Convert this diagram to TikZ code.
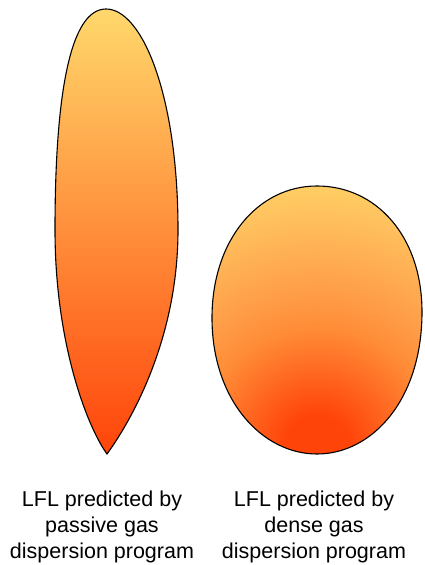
\documentclass[tikz,border=0pt]{standalone}
\usepackage{fontspec}
\setmainfont{Liberation Sans}
\usetikzlibrary{positioning}
\definecolor{lfltop}{RGB}{255,216,108}
\definecolor{lflmid}{RGB}{255,140,55}
\definecolor{lflbot}{RGB}{255,68,10}
\definecolor{lflside}{RGB}{255,160,75}
\definecolor{lflcap}{RGB}{255,205,100}
\pgfdeclareradialshading{densegas}{\pgfpoint{0bp}{0bp}}{%
  color(0bp)=(lflbot); color(3bp)=(lflbot); color(11bp)=(lflmid); color(15bp)=(lflside);
  color(24bp)=(lflcap); color(50bp)=(lflcap)}
\newcommand{\densecloud}{(317,379) .. controls (258,379) and (212,325) .. (212,247)
      .. controls (212,165) and (262,111) .. (317,111)
      .. controls (372,111) and (422,165) .. (422,253)
      .. controls (422,329) and (376,379) .. (317,379) -- cycle}

\begin{document}
\begin{tikzpicture}[x=1pt, y=1pt,
    cloud/.style  ={draw=black, line width=1.1pt},
    caption/.style={align=center, font=\fontsize{21.5}{26}\selectfont, anchor=north}]
    \useasboundingbox (0,0) rectangle (424,565);
    % passive gas cloud
    \path[cloud, top color=lfltop, middle color=lflmid, bottom color=lflbot]
      (106,556) .. controls (70,556) and (55,470) .. (55,335)
      .. controls (55,220) and (88,137) .. (107,111)
      .. controls (126,137) and (178,220) .. (178,335)
      .. controls (178,470) and (142,556) .. (106,556) -- cycle;
    % dense gas cloud
    \begin{scope}
      \clip \densecloud;
      \path[shading=densegas] (317,118) circle (270);
    \end{scope}
    \draw[cloud] \densecloud;
    \node[caption] (passive) at (102,78) {LFL predicted by\\passive gas\\dispersion program};
    \node[caption] (dense)   at (314,78) {LFL predicted by\\dense gas\\dispersion program};
\end{tikzpicture}
\end{document}
